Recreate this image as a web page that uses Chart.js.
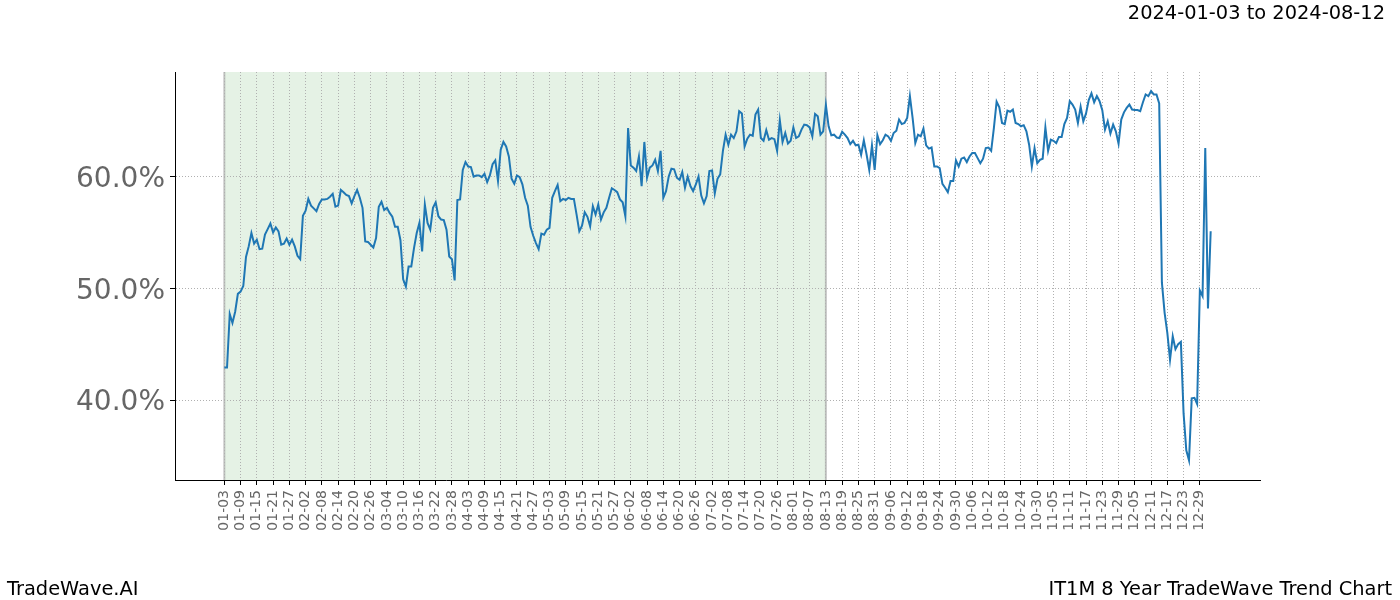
<!DOCTYPE html>
<html lang="en">
<head>
    <meta charset="UTF-8">
    <title>IT1M 8 Year TradeWave Trend Chart</title>
    <script src="https://cdn.jsdelivr.net/npm/chart.js"></script>
    <style>
        html, body { margin: 0; padding: 0; background: #fff; }
        #wrap { position: relative; width: 1400px; height: 600px; font-family: "DejaVu Sans", sans-serif; }
        #wrap canvas { position: absolute; left: 0; top: 0; }
        .txt { position: absolute; font-size: 19.4px; line-height: 1; color: #000; white-space: nowrap; }
    </style>
</head>
<body>
    <div id="wrap">
        <canvas id="trendChart" width="1400" height="600"></canvas>
        <div class="txt" style="right: 15px; top: 3px;">2024-01-03 to 2024-08-12</div>
        <div class="txt" style="left: 7px; top: 579px;">TradeWave.AI</div>
        <div class="txt" style="right: 8px; top: 579px;">IT1M 8 Year TradeWave Trend Chart</div>
    </div>

    <script>
        // x tick labels, one every 6 days starting at day 0
        const tickLabels = ['01-03', '01-09', '01-15', '01-21', '01-27', '02-02', '02-08', '02-14', '02-20', '02-26',
            '03-04', '03-10', '03-16', '03-22', '03-28', '04-03', '04-09', '04-15', '04-21', '04-27',
            '05-03', '05-09', '05-15', '05-21', '05-27', '06-02', '06-08', '06-14', '06-20', '06-26',
            '07-02', '07-08', '07-14', '07-20', '07-26', '08-01', '08-07', '08-13', '08-19', '08-25',
            '08-31', '09-06', '09-12', '09-18', '09-24', '09-30', '10-06', '10-12', '10-18', '10-24',
            '10-30', '11-05', '11-11', '11-17', '11-23', '11-29', '12-05', '12-11', '12-17', '12-23', '12-29'];
        const tickStep = 6;

        const yTicks = [40, 50, 60];

        // trend value (%) for each day, index = days after 01-03
        const trendPct = [
            42.9, 42.9, 47.7, 46.9, 47.9, 49.5, 49.7, 50.2, 52.8, 53.75,
            54.95, 54.0, 54.35, 53.5, 53.55, 54.8, 55.3, 55.8, 55.0, 55.45,
            55.1, 53.9, 54.0, 54.45, 53.9, 54.35, 53.75, 52.9, 52.6, 56.5,
            56.95, 58.0, 57.4, 57.15, 56.9, 57.55, 57.95, 57.95, 58.0, 58.2,
            58.45, 57.3, 57.4, 58.8, 58.6, 58.35, 58.25, 57.6, 58.25, 58.8,
            58.1, 57.2, 54.2, 54.15, 53.9, 53.65, 54.5, 57.3, 57.75, 57.0,
            57.2, 56.75, 56.4, 55.5, 55.5, 54.3, 50.8, 50.15, 51.95, 51.95,
            53.6, 54.95, 55.85, 53.3, 57.5, 55.85, 55.25, 57.2, 57.7, 56.45,
            56.15, 56.1, 55.25, 52.85, 52.6, 50.7, 57.9, 57.95, 60.6, 61.3,
            60.9, 60.85, 60.0, 60.1, 60.1, 59.95, 60.25, 59.5, 60.1, 61.1,
            61.45, 59.6, 62.4, 63.1, 62.7, 61.8, 59.8, 59.35, 60.1, 59.95,
            59.3, 58.1, 57.4, 55.5, 54.7, 54.05, 53.5, 54.9, 54.8, 55.25,
            55.4, 58.1, 58.7, 59.25, 57.8, 58.0, 57.9, 58.1, 58.0, 58.0,
            56.6, 55.1, 55.6, 56.8, 56.4, 55.55, 57.35, 56.6, 57.5, 56.15,
            56.8, 57.2, 58.1, 58.95, 58.8, 58.6, 57.95, 57.7, 56.45, 64.35,
            61.0, 60.8, 60.5, 61.8, 59.15, 63.1, 59.9, 60.8, 61.0, 61.5,
            60.5, 62.3, 58.1, 58.7, 60.0, 60.7, 60.65, 59.9, 59.7, 60.4,
            59.0, 60.0, 59.15, 58.7, 59.3, 60.0, 58.3, 57.6, 58.25, 60.5,
            60.55, 58.5, 59.8, 60.2, 62.3, 63.75, 62.85, 63.75, 63.45, 64.05,
            65.85, 65.65, 62.7, 63.4, 63.75, 63.65, 65.55, 66.0, 63.45, 63.2,
            64.15, 63.3, 63.45, 63.35, 62.3, 65.05, 63.1, 63.9, 62.95, 63.2,
            64.4, 63.45, 63.6, 64.2, 64.65, 64.6, 64.4, 63.6, 65.6, 65.4,
            63.75, 64.05, 66.4, 64.5, 63.7, 63.75, 63.5, 63.45, 64.0, 63.75,
            63.45, 62.9, 63.2, 62.8, 62.85, 61.95, 63.25, 62.0, 60.6, 62.8,
            60.6, 63.7, 62.9, 63.25, 63.75, 63.6, 63.2, 63.9, 64.1, 65.1,
            64.7, 64.8, 65.25, 67.2, 65.25, 63.0, 63.75, 63.6, 64.3, 62.8,
            62.5, 62.6, 60.9, 60.9, 60.75, 59.35, 59.0, 58.6, 59.6, 59.6,
            61.45, 60.9, 61.6, 61.7, 61.3, 61.8, 62.1, 62.1, 61.65, 61.2,
            61.6, 62.55, 62.6, 62.3, 64.35, 66.7, 66.2, 64.8, 64.7, 65.9,
            65.8, 66.0, 64.8, 64.7, 64.5, 64.6, 64.05, 62.85, 60.9, 62.55,
            61.2, 61.5, 61.6, 64.4, 62.3, 63.3, 63.2, 63.0, 63.55, 63.55,
            64.7, 65.25, 66.75, 66.45, 66.0, 64.8, 66.25, 64.95, 65.65, 66.85,
            67.45, 66.65, 67.2, 66.75, 65.95, 64.2, 64.95, 63.85, 64.65, 64.05,
            62.95, 65.1, 65.75, 66.15, 66.45, 66.0, 65.95, 65.95, 65.85, 66.65,
            67.35, 67.2, 67.65, 67.35, 67.35, 66.55, 50.5, 47.8, 46.0, 43.6,
            45.7, 44.55, 45.0, 45.2, 38.8, 35.5, 34.6, 40.15, 40.2, 39.65,
            49.8, 49.3, 62.55, 48.2, 55.1
        ];

        // training window (days) shaded in green
        const shadeStart = 0;
        const shadeEnd = 222;

        const xMin = -18.2, xMax = 382.2;
        const yMin = 32.84, yMax = 69.36;

        const shadePlugin = {
            id: 'shade',
            beforeDraw(chart) {
                const { ctx, chartArea: a, scales: { x } } = chart;
                const x0 = x.getPixelForValue(shadeStart);
                const x1 = x.getPixelForValue(shadeEnd);
                ctx.save();
                ctx.fillStyle = 'rgba(0,128,0,0.1)';
                ctx.fillRect(x0, a.top, x1 - x0, a.bottom - a.top);
                ctx.strokeStyle = 'rgba(128,128,128,0.45)';
                ctx.lineWidth = 2;
                [x0, x1].forEach(px => {
                    ctx.beginPath();
                    ctx.moveTo(px, a.top);
                    ctx.lineTo(px, a.bottom);
                    ctx.stroke();
                });
                ctx.restore();
            }
        };

        const gridOpts = { color: '#b0b0b0', lineWidth: 1, tickLength: 5, tickColor: '#000', tickWidth: 1 };
        const borderOpts = { display: true, color: '#000', width: 1, dash: [1, 2] };

        const ctx = document.getElementById('trendChart').getContext('2d');
        new Chart(ctx, {
            type: 'line',
            data: {
                datasets: [{
                    data: trendPct.map((v, i) => ({ x: i, y: v })),
                    borderColor: '#1f77b4',
                    borderWidth: 2,
                    pointRadius: 0,
                    tension: 0,
                    fill: false
                }]
            },
            options: {
                responsive: false,
                animation: false,
                devicePixelRatio: 1,
                layout: { padding: { left: 0, right: 140, top: 72, bottom: 0 } },
                plugins: { legend: { display: false }, tooltip: { enabled: false } },
                scales: {
                    x: {
                        type: 'linear',
                        min: xMin,
                        max: xMax,
                        afterBuildTicks: axis => { axis.ticks = tickLabels.map((_, i) => ({ value: i * tickStep })); },
                        afterFit: axis => { axis.height = 120; },
                        ticks: {
                            autoSkip: false,
                            minRotation: 90,
                            maxRotation: 90,
                            padding: 5,
                            color: '#666',
                            font: { family: 'DejaVu Sans', size: 14 },
                            callback: (v, i) => tickLabels[i]
                        },
                        grid: gridOpts,
                        border: borderOpts
                    },
                    y: {
                        min: yMin,
                        max: yMax,
                        afterBuildTicks: axis => { axis.ticks = yTicks.map(v => ({ value: v })); },
                        afterFit: axis => { axis.width = 175; },
                        ticks: {
                            padding: 5,
                            labelOffset: 3,
                            color: '#666',
                            font: { family: 'DejaVu Sans', size: 28 },
                            callback: v => v.toFixed(1) + '%'
                        },
                        grid: gridOpts,
                        border: borderOpts
                    }
                }
            },
            plugins: [shadePlugin]
        });
    </script>
</body>
</html>
